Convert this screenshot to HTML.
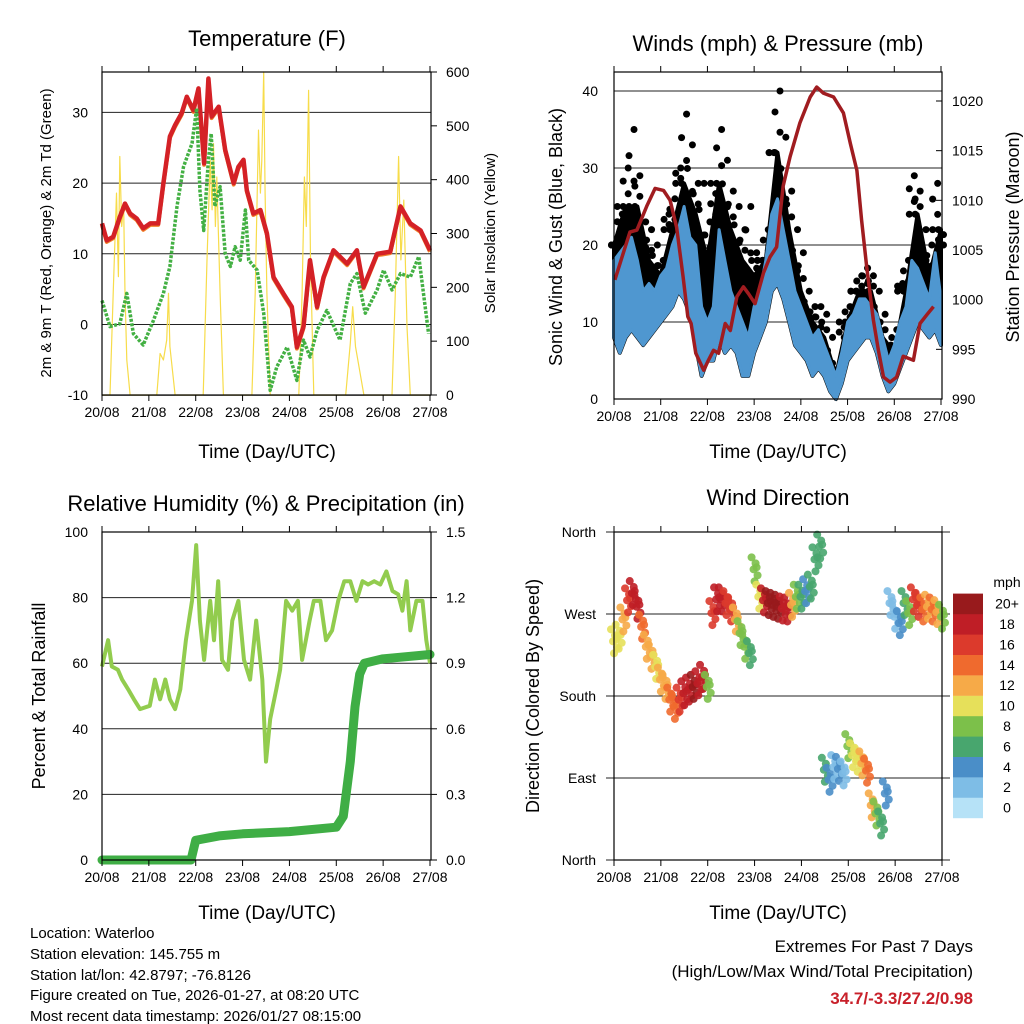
<!DOCTYPE html>
<html><head><meta charset="utf-8"><style>
html,body{margin:0;padding:0;background:#fff}
svg{display:block;font-family:"Liberation Sans",Arial,sans-serif}
</style></head><body>
<svg id="fig" width="1024" height="1024" viewBox="0 0 1024 1024" style="position:absolute;left:0;top:0"></svg>
<script>
// ---------- DATA ----------
const dayLabels = ["20/08","21/08","22/08","23/08","24/08","25/08","26/08","27/08"];
// Temperature panel
const tempDays = [0,0.1,0.24,0.38,0.49,0.6,0.74,0.88,1.03,1.2,1.31,1.45,1.56,1.7,1.81,1.95,2.06,2.18,2.27,2.34,2.49,2.63,2.81,2.91,3.02,3.09,3.23,3.38,3.52,3.66,3.87,4.05,4.16,4.30,4.44,4.59,4.73,4.94,5.23,5.44,5.58,5.87,6.15,6.37,6.58,6.80,7.0];
const tempVals = [14.3,11.9,12.4,15.2,17.1,15.7,15,13.6,14.3,14.3,20,26.6,28.2,29.9,32.2,30.3,33.4,22.8,34.8,29.4,30.8,24.7,20,22.3,23.3,19,15.7,16.2,12.9,6.7,4.4,2.5,-3.2,-0.3,9.1,2.5,6.7,10.5,8.6,10.5,5.3,10,10.3,16.7,14.3,13.3,10.5];
const dewDays = [0,0.17,0.38,0.53,0.67,0.88,1.1,1.31,1.45,1.6,1.74,1.92,2.02,2.09,2.17,2.27,2.33,2.41,2.52,2.63,2.74,2.84,2.95,3.06,3.13,3.31,3.45,3.59,3.73,3.95,4.16,4.30,4.44,4.59,4.80,5.08,5.30,5.44,5.62,5.87,6.01,6.19,6.37,6.58,6.76,6.97];
const dewVals = [3.4,-0.3,0.1,4.4,-1.3,-2.9,0.6,4.4,8.2,16.7,22.3,25.6,30.6,19,13.3,23.3,27,16.7,19.5,10,8.2,11,9.1,16.2,9.1,7.7,1.6,-9.3,-6,-3.2,-7.9,-2.2,-4.6,-0.8,2,-2.2,5.8,7.2,1.6,4.9,7.7,4.9,7.2,6.7,9.6,-1.3];
const solarDays = [0,0.17,0.24,0.31,0.35,0.38,0.42,0.46,0.49,0.53,0.6,1.17,1.24,1.31,1.38,1.42,1.45,1.56,2.16,2.24,2.31,2.35,2.38,2.42,2.45,2.52,2.59,3.2,3.27,3.34,3.38,3.41,3.45,3.48,3.52,3.59,4.2,4.27,4.32,4.36,4.41,4.45,4.52,5.2,5.3,5.35,5.41,5.59,6.19,6.26,6.33,6.38,6.44,6.51,6.58,7.0];
const solarVals = [0,0,189,375,220,443,313,356,189,65,0,0,77,65,102,189,90,0,0,251,436,344,467,313,405,189,0,0,189,492,375,436,600,375,189,0,0,189,405,313,566,251,0,0,96,164,90,0,0,189,443,251,362,127,0,0];
const tempTicks = [-10,0,10,20,30];
const solarTicks = [0,100,200,300,400,500,600];
// Wind panel (3-hourly)
const windDays = [0,0.125,0.25,0.375,0.5,0.625,0.75,0.875,1,1.125,1.25,1.375,1.5,1.625,1.75,1.875,2,2.125,2.25,2.375,2.5,2.625,2.75,2.875,3,3.125,3.25,3.375,3.5,3.625,3.75,3.875,4,4.125,4.25,4.375,4.5,4.625,4.75,4.875,5,5.125,5.25,5.375,5.5,5.625,5.75,5.875,6,6.125,6.25,6.375,6.5,6.625,6.75,6.875,7];
const windMin = [8,6,8,9,8,7,8,9,10,11,12,14,13,11,7,3,5,5,8,6,7,6,3,3,6,8,10,14,15,13,10,7,6,5,3,4,3,1,0,2,5,6,7,8,8,6,3,1,2,4,6,8,10,9,8,9,7];
const windMax = [18,19,20,21,18,14,15,14,16,17,20,22,25,21,20,12,10,12,22,18,14,12,10,8,12,14,18,24,26,22,18,14,12,10,8,9,7,5,3,6,10,11,13,13,12,11,8,5,7,10,12,18,17,15,13,19,13];
const gustMax = [20,22,30,35,29,23,22,20,18,24,26,30,37,33,28,28,23,24,35,31,27,25,22,25,19,18,22,32,40,34,27,22,19,14,12,12,11,8,4,8,12,14,16,17,16,14,11,7,9,15,18,29,27,22,20,28,20];
const gustDays = [0,0.25,0.5,0.75,1,1.25,1.5,1.75,2,2.25,2.5,2.75,3,3.25,3.5,3.75,4,4.25,4.5,4.75,5,5.25,5.5,5.75,6,6.25,6.5,6.75,7];
const gustTypical = [20,25,25,18,16,22,28,24,18,28,22,18,16,18,32,22,14,10,8,3,10,14,14,8,6,14,24,16,22];
const presDays = [0.02,0.2,0.34,0.49,0.7,0.88,1.06,1.2,1.34,1.48,1.58,1.65,1.75,1.92,2.02,2.13,2.24,2.38,2.49,2.63,2.77,2.88,3.02,3.2,3.34,3.48,3.62,3.77,3.98,4.2,4.34,4.48,4.7,4.91,5.06,5.2,5.3,5.41,5.55,5.66,5.77,5.91,6.05,6.19,6.41,6.55,6.7,6.84];
const presVals = [1002,1004.7,1006.8,1007,1009.4,1011.2,1011,1010,1007.3,1002.3,998.3,997.6,994.6,992.9,993.9,994.9,994.6,997.6,996.9,1000.3,1001.3,1000.6,999.6,1002.7,1004.3,1005.3,1011.4,1014.4,1017.8,1020.4,1021.4,1020.8,1020.4,1018.8,1015.7,1013,1008,1003.3,998,994.9,992.2,991.7,992.2,994.3,993.9,997.6,998.5,999.3];
const windTicks = [0,10,20,30,40];
const presTicks = [990,995,1000,1005,1010,1015,1020];
// RH / precipitation
const rhDays = [0,0.13,0.21,0.34,0.43,0.56,0.68,0.81,1.02,1.13,1.24,1.35,1.45,1.56,1.67,1.79,1.92,2.01,2.09,2.18,2.31,2.39,2.48,2.56,2.69,2.78,2.91,3.03,3.16,3.29,3.42,3.5,3.59,3.72,3.8,3.93,4.06,4.18,4.27,4.43,4.52,4.66,4.78,4.91,5.04,5.17,5.3,5.43,5.56,5.68,5.81,5.94,6.07,6.2,6.32,6.41,6.5,6.58,6.71,6.84,6.92,7.0];
const rhVals = [59,67,59,58,55,52,49,46,47,55,49,55,49,46,52,67,79,96,73,61,79,67,85,61,58,73,79,61,55,73,55,30,43,52,58,79,76,79,61,73,79,79,67,70,79,85,85,79,85,84,85,84,88,82,81,76,85,70,79,79,67,60];
const precDays = [0,1.9,2.0,2.5,3.0,4.0,5.0,5.15,5.3,5.4,5.5,5.6,6.0,7.0];
const precVals = [0,0,0.09,0.11,0.12,0.13,0.15,0.2,0.45,0.7,0.85,0.9,0.92,0.94];
const rhTicks = [0,20,40,60,80,100];
const precTicks = ["0.0","0.3","0.6","0.9","1.2","1.5"];
// Wind direction (every 0.1 day)
const dirVals = [240,245,264,285,293,278,256,234,223,212,198,190,176,168,176,183,187,190,194,201,190,271,286,286,282,275,264,249,234,227,319,289,285,282,280,278,276,275,280,289,289,295,300,330,344,99,88,102,100,95,125,115,110,106,98,60,51,40,73,282,267,260,282,271,286,280,275,278,275,272,267];
const dirSpeed = [10,10,12,16,18,18,15,13,12,11,12,12,14,15,16,18,19,20,19,18,8,16,19,18,17,16,12,9,8,7,8,11,19,20,21,20,19,18,12,9,7,5,6,7,6,6,5,3,4,3,8,10,11,13,14,12,9,7,4,2,3,4,6,8,16,17,15,12,14,13,8];
const dirTicks = ["North","East","South","West","North"];
const speedLabels = ["0","2","4","6","8","10","12","14","16","18","20+"];
const speedColors = ["#b6e2f7","#7ebde6","#4a8ec8","#48a66e","#7cc04a","#e6e05a","#f6aa48","#ef6a2e","#dc3a2c","#bf1e26","#981a1c"];

// ---------- HELPERS ----------
const NS="http://www.w3.org/2000/svg";
const svg=document.getElementById('fig');
function el(tag,attrs,parent){const e=document.createElementNS(NS,tag);for(const k in attrs)e.setAttribute(k,attrs[k]);(parent||svg).appendChild(e);return e;}
function txt(s,x,y,size,anchor,parent,extra){const t=el('text',Object.assign({x:x,y:y,'font-size':size,'text-anchor':anchor||'middle',fill:'#000'},extra||{}),parent);t.textContent=s;return t;}
function lin(d0,d1,p0,p1){return v=>p0+(v-d0)*(p1-p0)/(d1-d0);}
function pathOf(xs,ys,fx,fy){return xs.map((d,i)=>(i?'L':'M')+fx(d).toFixed(1)+','+fy(ys[i]).toFixed(1)).join(' ');}

function frame(g,L,T,R,B,xf){
  const r=el('rect',{x:L,y:T,width:R-L,height:B-T,fill:'none',stroke:'#000','stroke-width':1.2},g);
  
  
  dayLabels.forEach((s,i)=>{
    const x=xf(i);
    const tk=el('line',{x1:x,y1:B,x2:x,y2:B+6,stroke:'#000','stroke-width':1},g);
    
    
    const tk2=el('line',{x1:x,y1:T,x2:x,y2:T-6,stroke:'#000','stroke-width':1},g);
    
    
    const t=txt(s,x,B+22,14,'middle',g);
    
    
  });
}
function grid(g,L,R,y,ext){
  const l=el('line',{x1:L-(ext||0),y1:y,x2:R+(ext||0),y2:y,stroke:'#222','stroke-width':1},g);
  
  
}

// ---------- PANEL 1: TEMPERATURE ----------
(function(){
  const g=el('g',{});
  
  
  const L=102,R=431,T=72,B=395;
  const x=lin(0,7,L,430), y=lin(0,10,324.5,253.8), ys=lin(0,600,395,72);
  tempTicks.forEach(v=>{grid(g,L,R,y(v));const t=txt(String(v),88,y(v)+5,14,'end',g);});
  solarTicks.forEach(v=>{const t=txt(String(v),446,ys(v)+5,14,'start',g);
    const k=el('line',{x1:R,y1:ys(v),x2:R+6,y2:ys(v),stroke:'#000'},g);});
  const sol=el('path',{d:pathOf(solarDays,solarVals,x,ys),fill:'none',stroke:'#f7dc4a','stroke-width':1.2,'stroke-linejoin':'round'},g);
  
  
  const tor=el('path',{d:pathOf(tempDays,tempVals,x,d=>y(d)+1.5),fill:'none',stroke:'#f0822a','stroke-width':4,'stroke-linejoin':'round'},g);
  
  
  const tr=el('path',{d:pathOf(tempDays,tempVals,x,y),fill:'none',stroke:'#d42126','stroke-width':4.5,'stroke-linejoin':'round'},g);
  
  
  const dw=el('path',{d:pathOf(dewDays,dewVals,x,y),fill:'none',stroke:'#43b043','stroke-width':3.5,'stroke-dasharray':'3 1.5','stroke-linejoin':'round'},g);
  
  
  frame(g,L,T,R,B,x);
  const t1=txt('Temperature (F)',267,46,22,'middle',g);
  const a1=txt('2m & 9m T (Red, Orange) & 2m Td (Green)',0,0,15,'middle',g,{transform:'translate(51,233) rotate(-90)'});
  const a2=txt('Solar Insolation (Yellow)',0,0,15,'middle',g,{transform:'translate(495,233) rotate(-90)'});
  const a3=txt('Time (Day/UTC)',267,458,19,'middle',g);
})();

// ---------- PANEL 2: WINDS ----------
(function(){
  const g=el('g',{});
  
  
  const L=614,R=942,T=72,B=399;
  const x=lin(0,7,L,941), y=lin(0,40,399,91), yp=lin(990,1020,399,101);
  windTicks.forEach(v=>{grid(g,L,R,y(v));const t=txt(String(v),598,y(v)+5,14,'end',g);});
  presTicks.forEach(v=>{const t=txt(String(v),952,yp(v)+5,14,'start',g);
    const k=el('line',{x1:R,y1:yp(v),x2:R-6,y2:yp(v),stroke:'#000'},g);});
  // dense gust envelope
  const gd=gustDays.map((d,i)=>x(d).toFixed(1)+','+y(gustTypical[i]).toFixed(1)).join(' ')+' '+windDays.slice().reverse().map((d,i)=>x(d).toFixed(1)+','+y(windMin[windDays.length-1-i]).toFixed(1)).join(' ');
  const gp=el('polygon',{points:gd,fill:'#000',stroke:'#000','stroke-width':4,'stroke-linejoin':'round'},g);
  
  
  windDays.forEach((d,i)=>{
    const lo=gustTypical[Math.min(gustDays.length-1,Math.round(d*4))];
    [0,0.33,0.66,1].forEach((f,k)=>{
      const v=lo+(gustMax[i]-lo)*f;
      const c=el('circle',{cx:x(d)+(k%2?2.5:-2.5),cy:y(v),r:3.5,fill:'#000'},g);
      
      
    });
  });
  const bd=windDays.map((d,i)=>x(d).toFixed(1)+','+y(windMax[i]).toFixed(1)).join(' ')+' '+windDays.slice().reverse().map((d,i)=>x(d).toFixed(1)+','+y(windMin[windDays.length-1-i]).toFixed(1)).join(' ');
  const bp=el('polygon',{points:bd,fill:'#4f97d0',stroke:'#4f97d0','stroke-width':3,'stroke-linejoin':'round'},g);
  
  
  const pr=el('path',{d:pathOf(presDays,presVals,x,yp),fill:'none',stroke:'#a01c20','stroke-width':3.5,'stroke-linejoin':'round'},g);
  
  
  frame(g,L,T,R,B,x);
  const t1=txt('Winds (mph) & Pressure (mb)',778,51,22,'middle',g);
  const a1=txt('Sonic Wind & Gust (Blue, Black)',0,0,18,'middle',g,{transform:'translate(562,237) rotate(-90)'});
  const a2=txt('Station Pressure (Maroon)',0,0,18,'middle',g,{transform:'translate(1019,237) rotate(-90)'});
  const a3=txt('Time (Day/UTC)',778,458,19,'middle',g);
})();

// ---------- PANEL 3: RH & PRECIP ----------
(function(){
  const g=el('g',{});
  
  
  const L=102,R=431,T=532,B=860;
  const x=lin(0,7,L,430), y=lin(0,100,860,532), yp=lin(0,1.5,860,532);
  rhTicks.forEach(v=>{if(v>0&&v<100)grid(g,L,R,y(v));const t=txt(String(v),88,y(v)+5,14,'end',g);});
  precTicks.forEach(s=>{const v=parseFloat(s);const t=txt(s,446,yp(v)+5,14,'start',g);
    const k=el('line',{x1:R,y1:yp(v),x2:R+6,y2:yp(v),stroke:'#000'},g);});
  const rh=el('path',{d:pathOf(rhDays,rhVals,x,y),fill:'none',stroke:'#92cc4e','stroke-width':4,'stroke-linejoin':'round'},g);
  
  
  const pc=el('path',{d:pathOf(precDays,precVals,x,yp),fill:'none',stroke:'#3fae45','stroke-width':9,'stroke-linejoin':'round','stroke-linecap':'round'},g);
  
  
  frame(g,L,T,R,B,x);
  const t1=txt('Relative Humidity (%) & Precipitation (in)',266,511,22,'middle',g);
  const a1=txt('Percent & Total Rainfall',0,0,18,'middle',g,{transform:'translate(45,696) rotate(-90)'});
  const a3=txt('Time (Day/UTC)',267,919,19,'middle',g);
})();

// ---------- PANEL 4: WIND DIRECTION ----------
(function(){
  const g=el('g',{});
  
  
  const L=614,R=942,T=532,B=860;
  const x=lin(0,7,L,942), y=lin(0,360,860,532);
  dirTicks.forEach((s,i)=>{const v=i*90;grid(g,L,R,y(v),8);const t=txt(s,596,y(v)+5,14,'end',g);});
  function col(s){return speedColors[Math.min(10,Math.max(0,Math.floor(s/2)))];}
  const offs=[[-3,-12],[1,-6],[-1,0],[3,6],[0,12],[2,-2]];
  dirVals.forEach((v,i)=>{
    const d=i*0.1;
    offs.forEach(o=>{
      const c=el('circle',{cx:x(d)+o[0],cy:y(v)+o[1],r:4,fill:col(dirSpeed[i]),'fill-opacity':0.9},g);
      
      
    });
  });
  frame(g,L,T,R,B,x);
  const cb=el('g',{},g);
  
  
  speedLabels.forEach((s,i)=>{
    const top=818-(i+1)*20.4;
    const r=el('rect',{x:953,y:top,width:30,height:20.6,fill:speedColors[i]},cb);
    
    
    const t=txt(s,1007,top+15,14,'middle',cb);
    
    
  });
  const mu=txt('mph',1007,587,14,'middle',cb);
  
  
  const t1=txt('Wind Direction',778,505,22,'middle',g);
  const a1=txt('Direction (Colored By Speed)',0,0,18,'middle',g,{transform:'translate(539,696) rotate(-90)'});
  const a3=txt('Time (Day/UTC)',778,919,19,'middle',g);
})();
</script>
<svg width="1024" height="1024" style="position:absolute;left:0;top:0;pointer-events:none">
<g font-family="Liberation Sans, Arial, sans-serif" font-size="15" fill="#000">
<text x="30" y="938">Location: Waterloo</text>
<text x="30" y="959">Station elevation: 145.755 m</text>
<text x="30" y="980">Station lat/lon: 42.8797; -76.8126</text>
<text x="30" y="1000">Figure created on Tue, 2026-01-27, at 08:20 UTC</text>
<text x="30" y="1021">Most recent data timestamp: 2026/01/27 08:15:00</text>
<text x="973" y="952" text-anchor="end" font-size="17">Extremes For Past 7 Days</text>
<text x="973" y="977" text-anchor="end" font-size="17">(High/Low/Max Wind/Total Precipitation)</text>
<text x="973" y="1004" text-anchor="end" font-size="17" font-weight="bold" fill="#c8202a">34.7/-3.3/27.2/0.98</text>
</g></svg>
</body></html>
